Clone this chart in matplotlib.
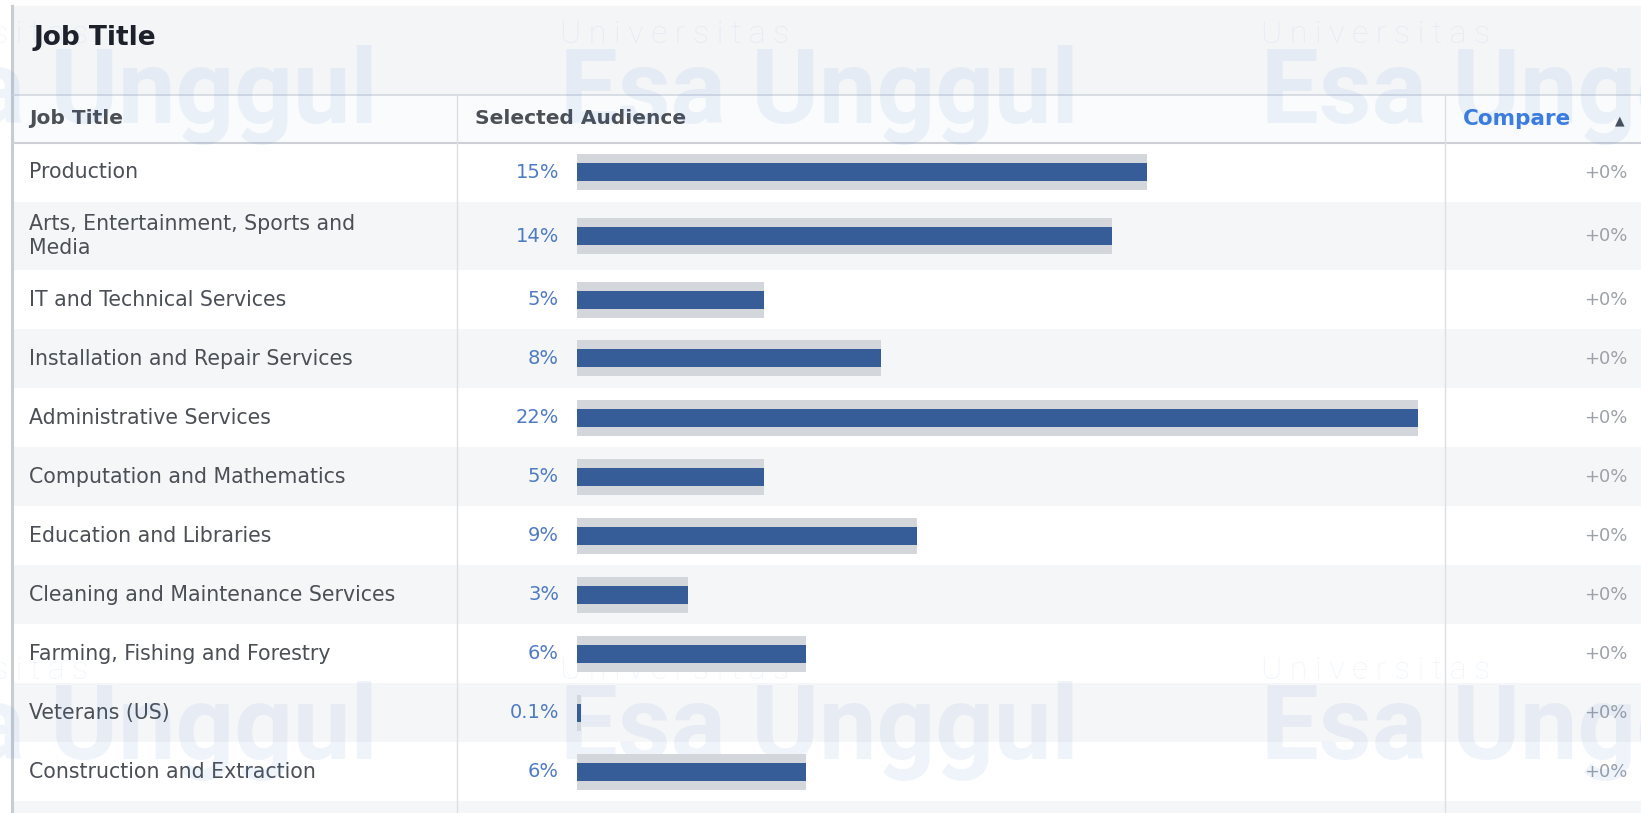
import matplotlib
matplotlib.use("Agg")
import matplotlib.pyplot as plt
from matplotlib.patches import Rectangle

# table content
job_titles = ["Production", "Arts, Entertainment, Sports and\nMedia",
              "IT and Technical Services", "Installation and Repair Services",
              "Administrative Services", "Computation and Mathematics",
              "Education and Libraries", "Cleaning and Maintenance Services",
              "Farming, Fishing and Forestry", "Veterans (US)",
              "Construction and Extraction", ""]
audience_pct = [14.9, 14.0, 4.9, 7.95, 22.0, 4.9, 8.9, 2.9, 6.0, 0.1, 6.0, 16.0]
pct_labels = ["15%", "14%", "5%", "8%", "22%", "5%", "9%", "3%", "6%", "0.1%", "6%", ""]
compare_labels = ["+0%"] * 11 + [""]

W, H = 1641, 813
TXT = "#4b4f56"
BLUE = "#365d97"
TRACK = "#d3d6db"

# row geometry (pixels)
hdr_top, hdr_bot = 95, 143
row_h = [59, 68] + [59] * 10
row_top = []
y = hdr_bot
for h in row_h:
    row_top.append(y)
    y += h
row_mid = [t + h / 2 for t, h in zip(row_top, row_h)]

fig = plt.figure(figsize=(W / 100, H / 100), dpi=100)
fig.patch.set_facecolor("white")
ax = fig.add_axes([0, 0, 1, 1])
ax.set_xlim(0, W)
ax.set_ylim(H, 0)
ax.axis("off")

# backgrounds
ax.add_patch(Rectangle((13, 6), W - 13, hdr_top - 6, color="#f3f5f7", lw=0))
ax.add_patch(Rectangle((13, hdr_top), W - 13, hdr_bot - hdr_top, color="#fafbfc", lw=0))
for i, (t, h) in enumerate(zip(row_top, row_h)):
    ax.add_patch(Rectangle((13, t), W - 13, h, color="white" if i % 2 == 0 else "#f5f6f7", lw=0))

ax.plot([12, 12], [6, H], color="#c9ccd1", lw=2.2)
ax.plot([13, W], [hdr_top, hdr_top], color="#d3d9e1", lw=1.2)
ax.plot([13, W], [hdr_bot, hdr_bot], color="#cdd1d7", lw=1.5)
for cx in [457, 1445]:
    ax.plot([cx, cx], [hdr_top, H], color="#dcdfe3", lw=1)

# texts
ax.text(34, 38, "Job Title", fontsize=19, fontweight="bold", color="#1d2129", va="center")
ax.text(29, 119, "Job Title", fontsize=14.5, fontweight="bold", color=TXT, va="center")
ax.text(475, 119, "Selected Audience", fontsize=14.5, fontweight="bold", color=TXT, va="center")
ax.text(1463, 119, "Compare", fontsize=15.5, fontweight="bold", color="#3b7de0", va="center")
ax.text(1620, 121, "\u25B2", fontsize=9, color=TXT, va="center", ha="center")

for name, pl, cl, ym in zip(job_titles, pct_labels, compare_labels, row_mid):
    ax.text(29, ym, name, fontsize=14.8, color=TXT, va="center", linespacing=1.2)
    ax.text(559, ym, pl, fontsize=14, color="#4f7bc5", va="center", ha="right")
    ax.text(1628, ym, cl, fontsize=13, color="#9da1a8", va="center", ha="right")

# bars: 0 at x=577px, max value at x=1418px
bax = fig.add_axes([577 / W, 0, (1418 - 577) / W, 1])
bax.set_xlim(0, max(audience_pct))
bax.set_ylim(H, 0)
bax.axis("off")
bax.barh(row_mid, audience_pct, height=36, color=TRACK, lw=0)
bax.barh(row_mid, audience_pct, height=18, color=BLUE, lw=0)

# faint watermark
wm = dict(color="#2d6fd1", alpha=0.075, zorder=20)
for dx in [-701, 0, 701]:
    for dy in [0, 636]:
        ax.text(560 + dx, 43 + dy, "U n i v e r s i t a s", fontsize=23,
                family="Roboto", fontweight="light", va="baseline", **wm)
        ax.text(560 + dx, 123 + dy, "Esa Unggul", fontsize=74,
                family="Roboto", fontweight="bold", va="baseline", **wm)

fig.savefig("out.png", dpi=100)
